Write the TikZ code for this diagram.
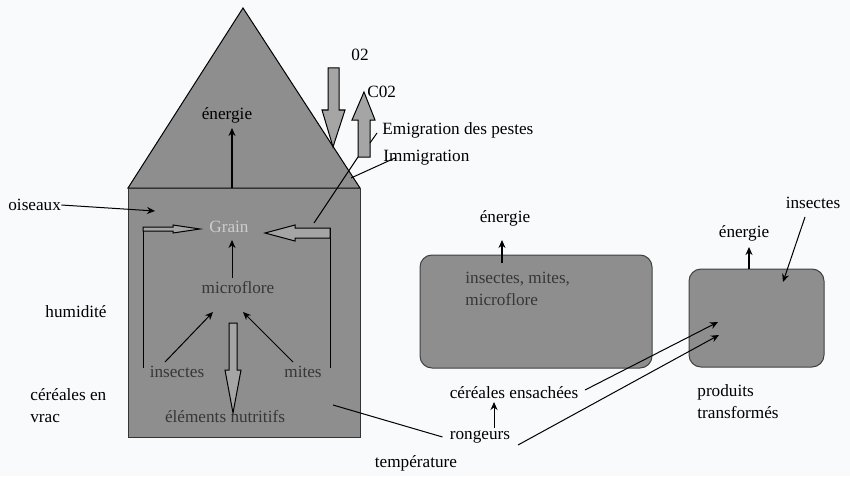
\documentclass[tikz,border=0pt]{standalone}
\usepackage{fontspec}
\setmainfont{Liberation Serif}
\usetikzlibrary{arrows.meta}
\definecolor{paper}{RGB}{248,250,251}
\definecolor{housegray}{RGB}{142,142,142}
\definecolor{arrowgray}{RGB}{165,165,165}
\definecolor{textgray}{RGB}{55,55,55}
\definecolor{graintext}{RGB}{205,205,205}
\begin{document}
\begin{tikzpicture}[x=0.5pt, y=-0.5pt,
    every node/.style={font=\fontsize{8.6}{11}\selectfont, inner sep=0pt},
    inlbl/.style={text=textgray},
    tip/.style={-{Stealth[length=4pt, width=3.5pt]}},
    thin line/.style={line width=0.5pt},
    blockarrow/.style={draw=black, fill=arrowgray, line width=0.5pt},
    sackbox/.style={draw=black!75, fill=housegray, rounded corners=6pt, line width=0.5pt}]
    \fill[paper] (0,0) rectangle (850,476);
    % house
    \filldraw[fill=housegray, draw=black, thin line] (128,188) -- (243,8) -- (360,188) -- cycle;
    \filldraw[fill=housegray, draw=black!80, thin line] (128,188) rectangle (360,437);
    % roof arrows
    \filldraw[blockarrow] (328,68) -- (339,68) -- (339,110) -- (345,110) -- (333,147) -- (322,110) -- (328,110) -- cycle;
    \filldraw[blockarrow] (358,157) -- (370,157) -- (370,120) -- (375,120) -- (364,92) -- (352,120) -- (358,120) -- cycle;
    \node (o2) at (360,55) {02};
    \node[anchor=west] (co2) at (367,92) {C02};
    \node[anchor=west] (emig) at (382,130) {Emigration des pestes};
    \node[anchor=west] (immig) at (383,158) {Immigration};
    \coordinate (co2side) at (370,143);
    \coordinate (co2base) at (358,157);
    \coordinate (roofedge) at (351,178);
    \coordinate (grainin) at (314,223);
    \draw[thin line] ([shift={(-5,3)}]emig.west) -- (co2side);
    \draw[thin line] (co2base) -- (grainin);
    \draw[thin line] ([xshift=6pt]immig.west) -- (roofedge);
    % roof
    \node (roofen) at (227,115) {énergie};
    \coordinate (roofbase) at (232,188);
    \draw[tip, line width=0.7pt] (roofbase) -- (232,128);
    % inside the house
    \node[text=graintext] (grain) at (229,227) {Grain};
    \node[inlbl] (micro) at (238,288) {microflore};
    \node[inlbl] (insl) at (177,372) {insectes};
    \node[inlbl] (mites) at (303,372) {mites};
    \node[inlbl] (nutri) at (225,417) {éléments nutritifs};
    \coordinate (mfl) at (213,312);
    \coordinate (mfr) at (243,312);
    \draw[tip, thin line] (232,278) -- (232,240);
    \draw[tip, thin line] (165,362) -- (mfl);
    \draw[tip, thin line] (293,362) -- (mfr);
    \draw[thin line] (143,368) -- (143,228);
    \draw[thin line] (330,368) -- (330,228);
    \filldraw[blockarrow] (143,227) -- (173,227) -- (173,225) -- (200,229) -- (173,233) -- (173,231) -- (143,231) -- cycle;
    \filldraw[blockarrow] (330,228) -- (295,228) -- (295,225) -- (265,233) -- (295,241) -- (295,238) -- (330,238) -- cycle;
    \filldraw[blockarrow] (229,323) -- (237,323) -- (237,370) -- (241,370) -- (233,413) -- (225,370) -- (229,370) -- cycle;
    % left labels
    \node[anchor=west] (birds) at (8,205) {oiseaux};
    \coordinate (birdsin) at (155,211);
    \draw[tip, thin line] (birds.east) -- (birdsin);
    \node (humid) at (76,312) {humidité};
    \node[anchor=west, align=left] (bulk) at (30,406) {céréales en\\vrac};
    % bags and products
    \node[sackbox, minimum width=116pt, minimum height=56.5pt] (sacks) at (536,311.5) {};
    \node[sackbox, minimum width=67.5pt, minimum height=49pt] (prod) at (756.5,318) {};
    \node[inlbl, anchor=north west, align=left] (sackpests) at (465,272) {insectes, mites,\\microflore};
    \node (sacken) at (505,218) {énergie};
    \draw[tip, line width=0.7pt] (502,263) -- (502,240);
    \node (proden) at (744,233) {énergie};
    \draw[tip, line width=0.7pt] (749,269) -- (749,247);
    \node (prodins) at (813,203) {insectes};
    \coordinate (prodinsin) at (783,282);
    \draw[tip, thin line] (805,217) -- (prodinsin);
    \node (bagged) at (514,393) {céréales ensachées};
    \node (rodents) at (480,437) {rongeurs};
    \node[anchor=west, align=left] (processed) at (697,402) {produits\\transformés};
    \node (temp) at (416,463) {température};
    \coordinate (bulkin) at (333,405);
    \coordinate (prodin) at (718,322);
    \coordinate (prodin2) at (719,335);
    \draw[thin line] (bulkin) -- ([xshift=-3.5pt]rodents.west);
    \draw[tip, thin line] (494,428) -- (494,402);
    \draw[tip, thin line] (585,390) -- (prodin);
    \draw[tip, thin line] (518,445) -- (prodin2);
\end{tikzpicture}
\end{document}
